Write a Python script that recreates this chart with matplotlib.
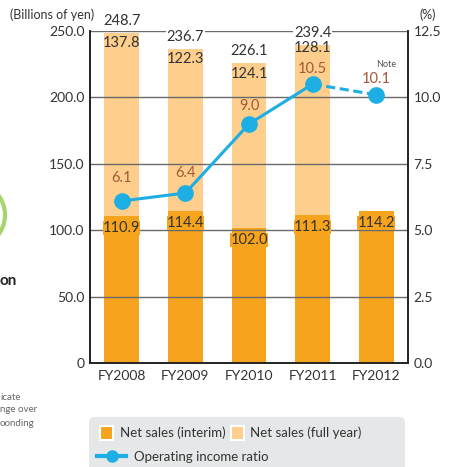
import numpy as np
from matplotlib import pyplot as plt
from matplotlib.patches import FancyBboxPatch, Patch, Arc
from matplotlib.lines import Line2D

plt.rcParams['font.family'] = ['Lato', 'DejaVu Sans']

# data
years = ['FY2008', 'FY2009', 'FY2010', 'FY2011', 'FY2012']
interim = [110.9, 114.4, 102.0, 111.3, 114.2]
second_half = [137.8, 122.3, 124.1, 128.1, 0]
full_year = [248.7, 236.7, 226.1, 239.4, None]
ratio = [6.1, 6.4, 9.0, 10.5, 10.1]

# label offsets in pixels (hand placed like the original)
half_off = [10, 10, 11, 3, 0]
ratio_off = [23, 20, 18, 15, 16]

c_interim = '#F6A41E'
c_full = '#FDCE8C'
c_line = '#1DAEE4'
c_ratio_txt = '#A5573A'
c_text = '#333333'

fig = plt.figure(figsize=(4.53, 4.67), dpi=100)
ax = fig.add_axes([90 / 453, 1 - 363 / 467, 318 / 453, 332 / 467])
x = np.arange(len(years))
w = 0.55
px = 250 / 332  # data units per pixel on the left axis
px2 = 12.5 / 332

ax.bar(x, interim, w, color=c_interim, zorder=1)
ax.bar(x, second_half, w, bottom=interim, color=c_full, zorder=1)

ax.set_xlim(-0.5, 4.5)
ax.set_ylim(0, 250)
ax.set_yticks([0, 50, 100, 150, 200, 250])
ax.set_yticklabels(['0', '50.0', '100.0', '150.0', '200.0', '250.0'])
ax.set_xticks(x)
ax.set_xticklabels(years)
ax.tick_params(length=0, labelsize=10, colors=c_text, pad=4)
ax.tick_params(axis='x', pad=5)
for yv in [50, 100, 150, 200, 250]:
    ax.axhline(yv, color='#6a6a6a', lw=1.0, zorder=2)
ax.spines['top'].set_visible(False)
for s in ['left', 'bottom', 'right']:
    ax.spines[s].set_color('#222222')
    ax.spines[s].set_linewidth(1.2)

# labels on bars
for i in range(len(years)):
    ax.text(x[i], interim[i] - 12 * px, f'{interim[i]:.1f}', ha='center', va='center',
            fontsize=10.5, color=c_text, zorder=4,
            bbox=dict(facecolor=c_interim, edgecolor='none', pad=0))
    if full_year[i] is not None:
        ax.text(x[i], full_year[i] - half_off[i] * px, f'{second_half[i]:.1f}',
                ha='center', va='center', fontsize=10.5, color=c_text, zorder=4)
        ax.text(x[i], full_year[i] + 12 * px, f'{full_year[i]:.1f}', ha='center',
                va='center', fontsize=10.5, color=c_text, zorder=4, clip_on=False,
                bbox=dict(facecolor='white', edgecolor='none', pad=0.3))

ax2 = ax.twinx()
ax2.set_ylim(0, 12.5)
ax2.set_yticks([0, 2.5, 5, 7.5, 10, 12.5])
ax2.set_yticklabels(['0.0', '2.5', '5.0', '7.5', '10.0', '12.5'])
ax2.tick_params(length=0, labelsize=10, colors=c_text, pad=4)
ax2.spines['top'].set_visible(False)
for s in ['left', 'bottom', 'right']:
    ax2.spines[s].set_color('#222222')
    ax2.spines[s].set_linewidth(1.2)

ax2.plot(x[:4], ratio[:4], color=c_line, lw=2.2, zorder=5)
ax2.plot(x[3:], ratio[3:], color=c_line, lw=2.2, ls=(0, (3, 1.5)), zorder=5)
ax2.plot(x, ratio, 'o', color=c_line, ms=11, zorder=6)
for i in range(len(years)):
    ax2.text(x[i], ratio[i] + ratio_off[i] * px2, f'{ratio[i]:.1f}', ha='center',
             va='center', fontsize=10.5, color=c_ratio_txt, zorder=6)
ax2.text(x[4] + 0.15, ratio[4] + 30 * px2, 'Note', ha='center', va='center',
         fontsize=6.5, color='#555555')

fig.text(10 / 453, 1 - 15 / 467, '(Billions of yen)', fontsize=9, color=c_text,
         ha='left', va='center')
fig.text(428 / 453, 1 - 15 / 467, '(%)', fontsize=9, color=c_text,
         ha='center', va='center')

# fragments of the surrounding page
fig.patches.append(Arc((-45 / 453, 1 - 215 / 467), 100 / 453, 80 / 467,
                       theta1=-70, theta2=70, color='#A8D46F', lw=3,
                       transform=fig.transFigure))
fig.text(0, 1 - 281 / 467, 'on', fontsize=11, fontweight='bold', color='#222222',
         ha='left', va='center')
for k, t in enumerate(['icate', 'nge over', 'oonding']):
    fig.text(0, 1 - (397 + k * 13) / 467, t, fontsize=7, color='#666666',
             ha='left', va='center')

# legend
fig.patches.append(FancyBboxPatch((89 / 453, -0.05), 316 / 453, 1 - 417 / 467 + 0.05,
                                  boxstyle='round,pad=0,rounding_size=0.012',
                                  facecolor='#E6E7E8', edgecolor='none',
                                  transform=fig.transFigure, zorder=0))
h1 = Patch(facecolor=c_interim, edgecolor='white', lw=1.5)
h2 = Patch(facecolor=c_full, edgecolor='white', lw=1.5)
leg1 = fig.legend([h1, h2], ['Net sales (interim)', 'Net sales (full year)'],
                  ncol=2, loc='center left', bbox_to_anchor=(100 / 453, 1 - 433 / 467),
                  frameon=False, fontsize=9.5, handlelength=1.0, handleheight=1.2,
                  handletextpad=0.5, columnspacing=0.4, borderpad=0, borderaxespad=0)
for t in leg1.get_texts():
    t.set_color(c_text)
h3 = Line2D([], [], color=c_line, lw=3, marker='o', ms=8)
leg2 = fig.legend([h3], ['Operating income ratio'], loc='center left',
                  bbox_to_anchor=(97 / 453, 1 - 457 / 467), frameon=False,
                  fontsize=9.5, handlelength=2.2, handletextpad=0.6,
                  borderpad=0, borderaxespad=0)
for t in leg2.get_texts():
    t.set_color(c_text)

plt.savefig('out.png', dpi=100)
